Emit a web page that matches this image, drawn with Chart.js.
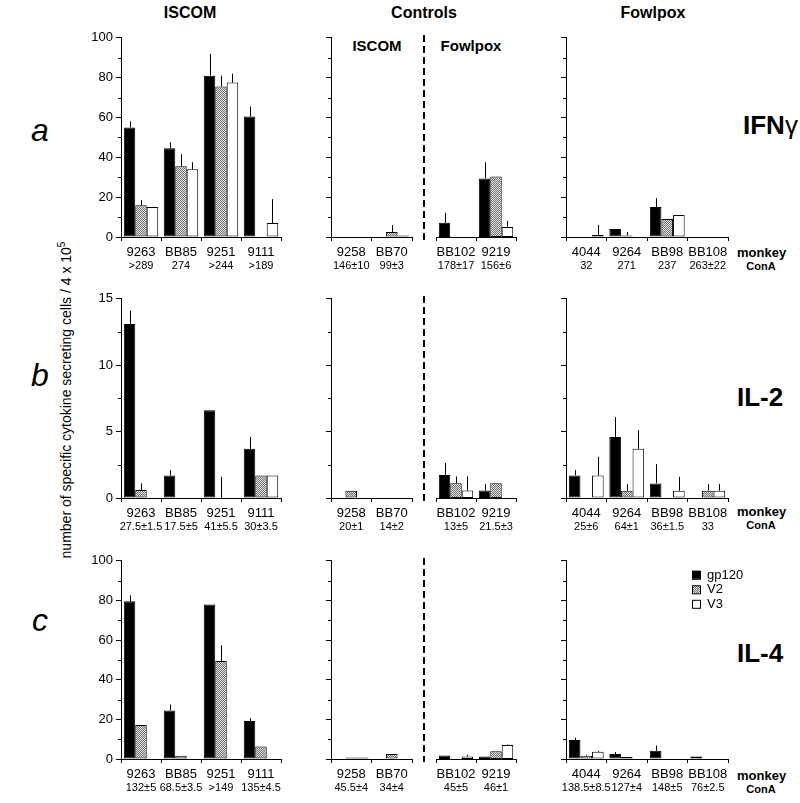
<!DOCTYPE html>
<html>
<head>
<meta charset="utf-8">
<script src="https://cdn.jsdelivr.net/npm/chart.js@4.4.0/dist/chart.umd.min.js"></script>
<style>
body { margin: 0; background: #fff; }
#fig { position: relative; width: 800px; height: 803px; font-family: "Liberation Sans", Arial, sans-serif; color: #000; overflow: hidden; }
#fig canvas { position: absolute; }
.t { position: absolute; white-space: nowrap; transform: translate(-50%, -50%); line-height: 1; }
.tl { position: absolute; white-space: nowrap; transform: translateY(-50%); line-height: 1; }
.head { font-weight: bold; font-size: 16px; }
.sub { font-weight: bold; font-size: 15px; }
.row { font-style: italic; font-size: 32px; }
.cyto { font-weight: bold; font-size: 26px; }
.mk { font-weight: bold; font-size: 13px; }
.ca { font-weight: bold; font-size: 11px; }
.dash { position: absolute; width: 1.5px; background: repeating-linear-gradient(to bottom, #000 0 7px, transparent 7px 11px); }
#ytitle { position: absolute; left: 65px; top: 400px; font-size: 14px; white-space: nowrap; transform: translate(-50%, -50%) rotate(-90deg); }
</style>
</head>
<body>
<div id="fig">
  <div class="t head" style="left:190px; top:13px;">ISCOM</div>
  <div class="t head" style="left:424px; top:13px;">Controls</div>
  <div class="t head" style="left:653px; top:13px;">Fowlpox</div>
  <div class="t sub" style="left:377px; top:45px;">ISCOM</div>
  <div class="t sub" style="left:471px; top:45px;">Fowlpox</div>

  <div class="t row" style="left:40px; top:130px;">a</div>
  <div class="t row" style="left:40px; top:375px;">b</div>
  <div class="t row" style="left:40px; top:620px;">c</div>

  <div class="tl cyto" style="left:743px; top:125px;">IFN<span style="font-weight:normal">γ</span></div>
  <div class="tl cyto" style="left:737px; top:397px;">IL-2</div>
  <div class="tl cyto" style="left:737px; top:653px;">IL-4</div>

  <div class="tl mk" style="left:737px; top:252px;">monkey</div>
  <div class="t ca" style="left:761px; top:266px;">ConA</div>
  <div class="tl mk" style="left:737px; top:511px;">monkey</div>
  <div class="t ca" style="left:761px; top:525px;">ConA</div>
  <div class="tl mk" style="left:737px; top:775px;">monkey</div>
  <div class="t ca" style="left:761px; top:789px;">ConA</div>

  <div class="dash" style="left:423px; top:35px; height:205px;"></div>
  <div class="dash" style="left:423px; top:296px; height:205px;"></div>
  <div class="dash" style="left:423px; top:558px; height:204px;"></div>

  <div id="ytitle">number of specific cytokine secreting cells / 4 x 10<sup style="font-size:10px">5</sup></div>
</div>
<script>
'use strict';

const series = ['gp120', 'V2', 'V3'];

const iscomMonkeys = ['9263', 'BB85', '9251', '9111'];
const ctrlIscomMonkeys = ['9258', 'BB70'];
const ctrlFowlMonkeys = ['BB102', '9219'];
const fowlMonkeys = ['4044', '9264', 'BB98', 'BB108'];

// ConA responses printed under each monkey
const conAIfnIscom = ['>289', '274', '>244', '>189'];
const conAIfnCtrlIscom = ['146±10', '99±3'];
const conAIfnCtrlFowl = ['178±17', '156±6'];
const conAIfnFowl = ['32', '271', '237', '263±22'];
const conAIl2Iscom = ['27.5±1.5', '17.5±5', '41±5.5', '30±3.5'];
const conAIl2CtrlIscom = ['20±1', '14±2'];
const conAIl2CtrlFowl = ['13±5', '21.5±3'];
const conAIl2Fowl = ['25±6', '64±1', '36±1.5', '33'];
const conAIl4Iscom = ['132±5', '68.5±3.5', '>149', '135±4.5'];
const conAIl4CtrlIscom = ['45.5±4', '34±4'];
const conAIl4CtrlFowl = ['45±5', '46±1'];
const conAIl4Fowl = ['138.5±8.5', '127±4', '148±5', '76±2.5'];

// values: [gp120, V2, V3], errors same shape
const ifnIscom = [[55, 44.5, 81, 60.5], [16, 35.5, 75.5, 0], [15, 34, 77.5, 7]];
const ifnIscomErr = [[3, 3, 11, 5], [2.5, 6, 5.5, 0], [0, 3.5, 4.5, 12]];
const ifnCtrlIscom = [[0, 0], [0, 2.5], [0, 0.7]];
const ifnCtrlIscomErr = [[0, 0], [0, 3.5], [0, 0]];
const ifnCtrlFowl = [[7, 29], [0, 30], [0, 5]];
const ifnCtrlFowlErr = [[5, 8], [0, 0], [0, 3]];
const ifnFowl = [[0, 4, 15, 0], [0, 0.8, 9, 0], [1, 0, 11, 0]];
const ifnFowlErr = [[0, 0, 4.5, 0], [0, 1.7, 0, 0], [5, 0, 0, 0]];

const il2Iscom = [[13.1, 1.7, 6.6, 3.7], [0.6, 0, 0, 1.7], [0, 0, 0, 1.7]];
const il2IscomErr = [[1, 0.4, 0, 0.9], [0.5, 0, 1.6, 0], [0, 0, 0, 0]];
const il2CtrlIscom = [[0, 0], [0.55, 0], [0, 0]];
const il2CtrlIscomErr = [[0, 0], [0, 0], [0, 0]];
const il2CtrlFowl = [[1.7, 0.55], [1.1, 1.1], [0.55, 0]];
const il2CtrlFowlErr = [[0.9, 0.5], [0.5, 0], [1.05, 0]];
const il2Fowl = [[1.7, 4.6, 1.1, 0], [0, 0.55, 0, 0.55], [1.7, 3.7, 0.55, 0.55]];
const il2FowlErr = [[0.4, 1.5, 1.45, 0], [0, 0.5, 0, 0.5], [1.4, 1.4, 1.05, 0.5]];

const il4Iscom = [[79.6, 24.5, 78, 19.2], [17.1, 1.7, 49.4, 6.3], [0, 0, 0, 0]];
const il4IscomErr = [[3, 3, 0, 1.4], [0, 0, 8, 0], [0, 0, 0, 0]];
const il4CtrlIscom = [[0, 0], [0.8, 2.5], [0.8, 0]];
const il4CtrlIscomErr = [[0, 0], [0, 0], [0, 0]];
const il4CtrlFowl = [[1.8, 1.3], [0, 3.8], [1.3, 7]];
const il4CtrlFowlErr = [[0, 0], [0, 0], [0.8, 0.3]];
const il4Fowl = [[9.6, 2.5, 4.1, 1.3], [1.7, 1, 0, 0], [3.6, 0, 0, 0]];
const il4FowlErr = [[1.1, 1, 2.7, 0], [0.5, 0, 0, 0], [0.5, 0, 0, 0]];

const FONT = '"Liberation Sans", Arial, sans-serif';
const fig = document.getElementById('fig');

function stipple() {
  const c = document.createElement('canvas');
  c.width = 2; c.height = 2;
  const g = c.getContext('2d');
  g.fillStyle = '#e4e4e4';
  g.fillRect(0, 0, 2, 2);
  g.fillStyle = '#707070';
  g.fillRect(0, 0, 1, 1);
  g.fillRect(1, 1, 1, 1);
  return g.createPattern(c, 'repeat');
}
const fills = ['#000', stipple(), '#fff'];

const extras = {
  id: 'extras',
  afterDatasetsDraw(chart, args, opts) {
    const ctx = chart.ctx;
    const ys = chart.scales.y;
    const xs = chart.scales.x;
    const area = chart.chartArea;
    ctx.save();
    ctx.strokeStyle = '#000';
    ctx.lineWidth = 1;
    // error bars
    chart.data.datasets.forEach((ds, i) => {
      chart.getDatasetMeta(i).data.forEach((bar, j) => {
        const e = ds.err[j];
        if (!e) return;
        const x = Math.round(bar.x) + 0.5;
        ctx.beginPath();
        ctx.moveTo(x, ys.getPixelForValue(ds.data[j]));
        ctx.lineTo(x, ys.getPixelForValue(ds.data[j] + e));
        ctx.stroke();
      });
    });
    // minor ticks
    if (opts.yAxis) {
      for (let v = opts.step / 2; v < opts.max; v += opts.step) {
        const y = Math.round(ys.getPixelForValue(v)) + 0.5;
        ctx.beginPath();
        ctx.moveTo(area.left - 3, y);
        ctx.lineTo(area.left, y);
        ctx.stroke();
      }
    }
    // labels under groups
    ctx.fillStyle = '#000';
    ctx.textAlign = 'center';
    ctx.textBaseline = 'middle';
    chart.data.labels.forEach((lab, i) => {
      const x = xs.getPixelForValue(i);
      ctx.font = '13px ' + FONT;
      ctx.fillText(lab, x, area.bottom + 15);
      ctx.font = '11px ' + FONT;
      ctx.fillText(opts.conA[i], x, area.bottom + 29);
    });
    // legend
    if (opts.legend) {
      ctx.textAlign = 'left';
      ctx.font = '13px ' + FONT;
      chart.data.datasets.forEach((ds, i) => {
        const lx = area.left + 126;
        const ly = area.top + 10 + i * 14.5;
        ctx.fillStyle = ds.backgroundColor;
        ctx.fillRect(lx, ly, 8, 8);
        ctx.strokeRect(lx + 0.5, ly + 0.5, 8, 8);
        ctx.fillStyle = '#000';
        ctx.fillText(ds.label, lx + 15, ly + 4.5);
      });
    }
    ctx.restore();
  }
};

function panel(area, labels, conA, vals, errs, max, step, opt) {
  const W = opt.yAxis ? (opt.yLabels ? 36 : 8) : 0;
  const padR = opt.legend ? 50 : 6;
  const left = area[0] - W;
  const top = area[2] - 8;
  const w = area[1] - area[0] + W + padR;
  const h = area[3] - area[2] + 8 + 40;
  const cv = document.createElement('canvas');
  cv.width = w; cv.height = h;
  cv.style.left = left + 'px';
  cv.style.top = top + 'px';
  cv.style.width = w + 'px';
  cv.style.height = h + 'px';
  fig.appendChild(cv);

  const isMajor = v => Math.abs(v / step - Math.round(v / step)) < 1e-6;

  new Chart(cv, {
    type: 'bar',
    data: {
      labels: labels,
      datasets: series.map((s, i) => ({
        label: s,
        data: vals[i],
        err: errs[i],
        backgroundColor: fills[i],
        borderColor: '#000',
        borderWidth: 1,
        borderSkipped: false,
        categoryPercentage: 0.86,
        barPercentage: 1
      }))
    },
    options: {
      responsive: false,
      animation: false,
      devicePixelRatio: 1,
      layout: { padding: { top: 8, right: padR, left: 0, bottom: 0 } },
      plugins: {
        legend: { display: false },
        tooltip: { enabled: false },
        extras: { conA: conA, yAxis: opt.yAxis, step: step, max: max, legend: !!opt.legend }
      },
      scales: {
        x: {
          afterFit: s => { s.height = 40; },
          ticks: { color: 'rgba(0,0,0,0)', autoSkip: false, maxRotation: 0, font: { size: 1 } },
          grid: { offset: true, drawOnChartArea: false, tickLength: 4, color: '#000' },
          border: { color: '#000', width: 1 }
        },
        y: {
          display: opt.yAxis,
          min: 0,
          max: max,
          afterFit: s => { s.width = W; },
          ticks: {
            stepSize: step / 2,
            autoSkip: false,
            color: '#000',
            padding: 3,
            font: { size: 13, family: FONT },
            callback: v => (opt.yLabels && isMajor(v)) ? v : ''
          },
          grid: {
            drawOnChartArea: false,
            tickLength: 5,
            tickColor: c => (c.tick && isMajor(c.tick.value)) ? '#000' : 'rgba(0,0,0,0)'
          },
          border: { color: '#000', width: 1 }
        }
      }
    },
    plugins: [extras]
  });
}

const rows = [
  { y0: 35, y1: 237, max: 100, step: 20,
    d: [ifnIscom, ifnIscomErr, conAIfnIscom, ifnCtrlIscom, ifnCtrlIscomErr, conAIfnCtrlIscom,
        ifnCtrlFowl, ifnCtrlFowlErr, conAIfnCtrlFowl, ifnFowl, ifnFowlErr, conAIfnFowl] },
  { y0: 296, y1: 498, max: 15, step: 5,
    d: [il2Iscom, il2IscomErr, conAIl2Iscom, il2CtrlIscom, il2CtrlIscomErr, conAIl2CtrlIscom,
        il2CtrlFowl, il2CtrlFowlErr, conAIl2CtrlFowl, il2Fowl, il2FowlErr, conAIl2Fowl] },
  { y0: 558, y1: 759, max: 100, step: 20,
    d: [il4Iscom, il4IscomErr, conAIl4Iscom, il4CtrlIscom, il4CtrlIscomErr, conAIl4CtrlIscom,
        il4CtrlFowl, il4CtrlFowlErr, conAIl4CtrlFowl, il4Fowl, il4FowlErr, conAIl4Fowl] }
];

rows.forEach((r, k) => {
  const d = r.d;
  panel([121, 281, r.y0, r.y1], iscomMonkeys, d[2], d[0], d[1], r.max, r.step, { yAxis: true, yLabels: true });
  panel([331, 412, r.y0, r.y1], ctrlIscomMonkeys, d[5], d[3], d[4], r.max, r.step, { yAxis: true });
  panel([436, 516, r.y0, r.y1], ctrlFowlMonkeys, d[8], d[6], d[7], r.max, r.step, { yAxis: false });
  panel([566, 728, r.y0, r.y1], fowlMonkeys, d[11], d[9], d[10], r.max, r.step, { yAxis: true, legend: k === 2 });
});
</script>
</body>
</html>
